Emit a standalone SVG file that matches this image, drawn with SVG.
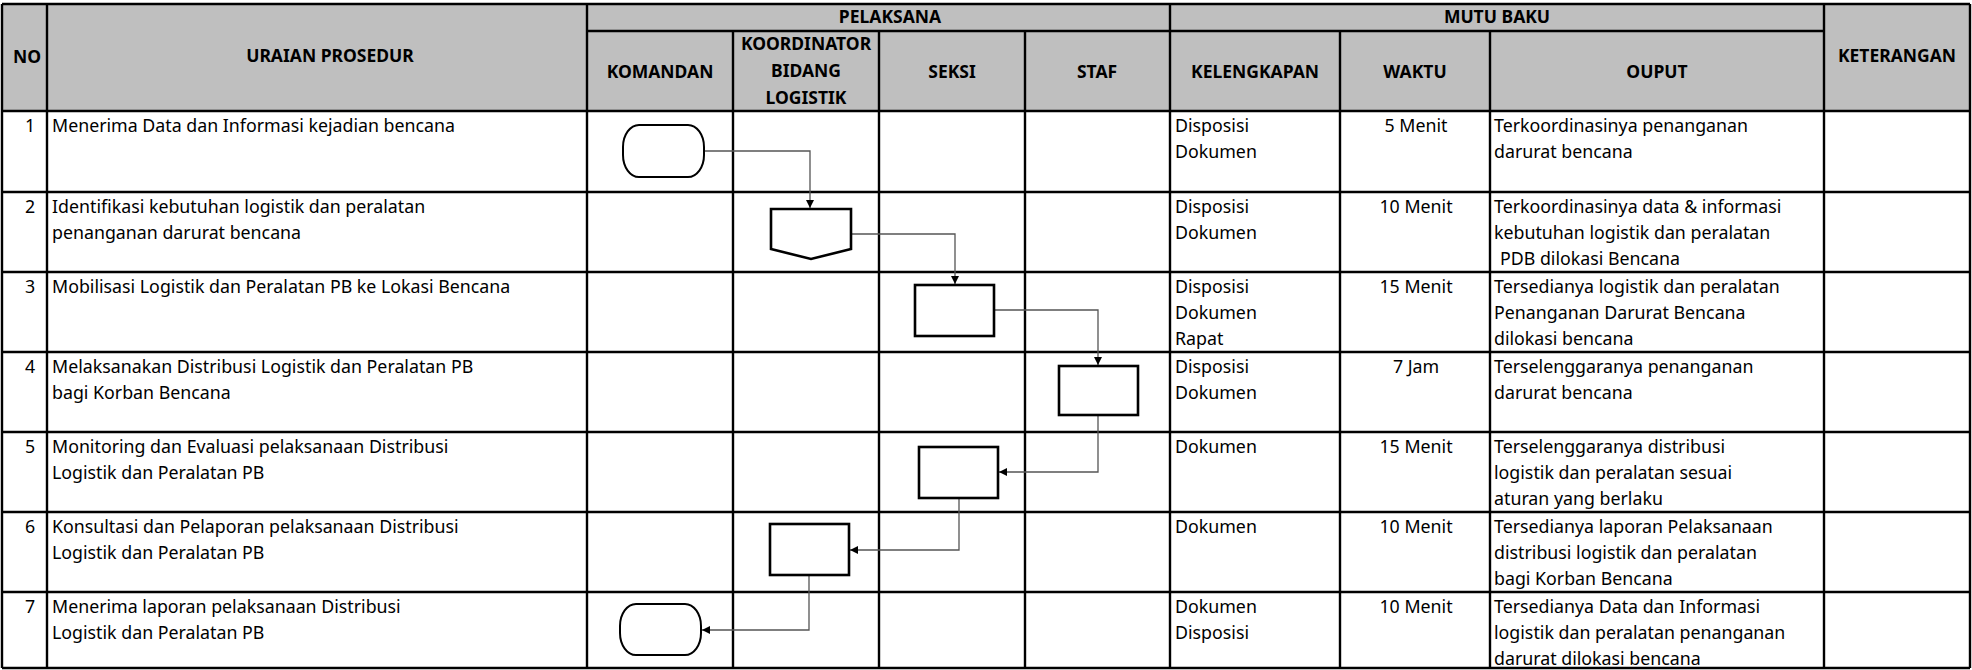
<svg xmlns="http://www.w3.org/2000/svg" width="1972" height="670" viewBox="0 0 1972 670">
<defs>
<style>
.bg{fill:#ffffff}
.hdr{fill:#BFBFBF}
.grid{stroke:#000;stroke-width:2.4;fill:none}
.shape{fill:#fff;stroke:#000;stroke-width:2.6}
.term{fill:#fff;stroke:#000;stroke-width:2}
.conn{fill:none;stroke:#555;stroke-width:1.3}
.h{font-family:"Noto Sans","Open Sans",sans-serif;font-weight:bold;font-size:17.5px;fill:#000;text-anchor:middle}
.t{font-family:"Noto Sans","Open Sans",sans-serif;font-size:17.8px;fill:#000}
.c{text-anchor:middle}
</style>
<marker id="arr" viewBox="0 0 10 10" refX="10" refY="5" markerWidth="8" markerHeight="8" markerUnits="userSpaceOnUse" orient="auto">
<path d="M0,0 L10,5 L0,10 Z" fill="#000"/>
</marker>
</defs>
<rect class="bg" x="0" y="0" width="1972" height="670"/>
<g id="table">
<rect class="hdr" x="2" y="4" width="1968" height="107"/>
<path class="grid" d="M2,4 H1970 M587,31 H1824 M2,111 H1970 M2,192 H1970 M2,272 H1970 M2,352 H1970 M2,432 H1970 M2,512 H1970 M2,592 H1970 M2,668 H1970
M2,4 V668 M47,4 V668 M587,4 V668 M733,31 V668 M879,31 V668 M1025,31 V668 M1170,4 V668 M1340,31 V668 M1490,31 V668 M1824,4 V668 M1970,4 V668"/>
</g>
<g id="header">
<text class="h" x="27" y="63">NO</text>
<text class="h" x="330" y="62">URAIAN PROSEDUR</text>
<text class="h" x="890" y="23">PELAKSANA</text>
<text class="h" x="1497" y="23">MUTU BAKU</text>
<text class="h" x="1897" y="62">KETERANGAN</text>
<text class="h" x="660" y="78">KOMANDAN</text>
<text class="h" x="806" y="50">KOORDINATOR</text>
<text class="h" x="806" y="77">BIDANG</text>
<text class="h" x="806" y="104">LOGISTIK</text>
<text class="h" x="952" y="78">SEKSI</text>
<text class="h" x="1097" y="78">STAF</text>
<text class="h" x="1255" y="78">KELENGKAPAN</text>
<text class="h" x="1415" y="78">WAKTU</text>
<text class="h" x="1657" y="78">OUPUT</text>
</g>
<g id="row1">
<text class="t c" x="30" y="132">1</text>
<text class="t" x="52" y="132">Menerima Data dan Informasi kejadian bencana</text>
<text class="t" x="1175" y="132">Disposisi</text><text class="t" x="1175" y="158">Dokumen</text>
<text class="t c" x="1416" y="132">5 Menit</text>
<text class="t" x="1494" y="132">Terkoordinasinya penanganan</text><text class="t" x="1494" y="158">darurat bencana</text>
</g>
<g id="row2">
<text class="t c" x="30" y="213">2</text>
<text class="t" x="52" y="213">Identifikasi kebutuhan logistik dan peralatan</text><text class="t" x="52" y="239">penanganan darurat bencana</text>
<text class="t" x="1175" y="213">Disposisi</text><text class="t" x="1175" y="239">Dokumen</text>
<text class="t c" x="1416" y="213">10 Menit</text>
<text class="t" x="1494" y="213">Terkoordinasinya data &amp; informasi</text><text class="t" x="1494" y="239">kebutuhan logistik dan peralatan</text><text class="t" x="1500" y="265">PDB  dilokasi Bencana</text>
</g>
<g id="row3">
<text class="t c" x="30" y="293">3</text>
<text class="t" x="52" y="293">Mobilisasi Logistik dan Peralatan PB ke Lokasi Bencana</text>
<text class="t" x="1175" y="293">Disposisi</text><text class="t" x="1175" y="319">Dokumen</text><text class="t" x="1175" y="345">Rapat</text>
<text class="t c" x="1416" y="293">15 Menit</text>
<text class="t" x="1494" y="293">Tersedianya logistik dan peralatan</text><text class="t" x="1494" y="319">Penanganan Darurat Bencana</text><text class="t" x="1494" y="345">dilokasi bencana</text>
</g>
<g id="row4">
<text class="t c" x="30" y="373">4</text>
<text class="t" x="52" y="373">Melaksanakan Distribusi Logistik dan Peralatan PB</text><text class="t" x="52" y="399">bagi Korban Bencana</text>
<text class="t" x="1175" y="373">Disposisi</text><text class="t" x="1175" y="399">Dokumen</text>
<text class="t c" x="1416" y="373">7 Jam</text>
<text class="t" x="1494" y="373">Terselenggaranya penanganan</text><text class="t" x="1494" y="399">darurat bencana</text>
</g>
<g id="row5">
<text class="t c" x="30" y="453">5</text>
<text class="t" x="52" y="453">Monitoring dan Evaluasi pelaksanaan Distribusi</text><text class="t" x="52" y="479">Logistik dan Peralatan PB</text>
<text class="t" x="1175" y="453">Dokumen</text>
<text class="t c" x="1416" y="453">15 Menit</text>
<text class="t" x="1494" y="453">Terselenggaranya distribusi</text><text class="t" x="1494" y="479">logistik dan peralatan sesuai</text><text class="t" x="1494" y="505">aturan yang berlaku</text>
</g>
<g id="row6">
<text class="t c" x="30" y="533">6</text>
<text class="t" x="52" y="533">Konsultasi dan Pelaporan pelaksanaan Distribusi</text><text class="t" x="52" y="559">Logistik dan Peralatan PB</text>
<text class="t" x="1175" y="533">Dokumen</text>
<text class="t c" x="1416" y="533">10 Menit</text>
<text class="t" x="1494" y="533">Tersedianya laporan Pelaksanaan</text><text class="t" x="1494" y="559">distribusi logistik dan peralatan</text><text class="t" x="1494" y="585">bagi Korban Bencana</text>
</g>
<g id="row7">
<text class="t c" x="30" y="613">7</text>
<text class="t" x="52" y="613">Menerima laporan pelaksanaan Distribusi</text><text class="t" x="52" y="639">Logistik dan Peralatan PB</text>
<text class="t" x="1175" y="613">Dokumen</text><text class="t" x="1175" y="639">Disposisi</text>
<text class="t c" x="1416" y="613">10 Menit</text>
<text class="t" x="1494" y="613">Tersedianya Data dan Informasi</text><text class="t" x="1494" y="639">logistik dan peralatan penanganan</text><text class="t" x="1494" y="665">darurat dilokasi bencana</text>
</g>
<g id="connectors">
<path class="conn" d="M704,151 H810 V208" marker-end="url(#arr)"/>
<path class="conn" d="M851,234 H955 V284" marker-end="url(#arr)"/>
<path class="conn" d="M994,310 H1098 V365" marker-end="url(#arr)"/>
<path class="conn" d="M1098,415 V472 H999" marker-end="url(#arr)"/>
<path class="conn" d="M959,498 V550 H850" marker-end="url(#arr)"/>
<path class="conn" d="M809,575 V630 H702" marker-end="url(#arr)"/>
</g>
<g id="node1"><rect class="term" x="623" y="125" width="81" height="52" rx="16" ry="22"/></g>
<g id="node2"><path class="shape" d="M771,209 H851 V249 L811,259 L771,249 Z"/></g>
<g id="node3"><rect class="shape" x="915" y="285" width="79" height="51"/></g>
<g id="node4"><rect class="shape" x="1059" y="366" width="79" height="49"/></g>
<g id="node5"><rect class="shape" x="919" y="447" width="79" height="51"/></g>
<g id="node6"><rect class="shape" x="770" y="524" width="79" height="51"/></g>
<g id="node7"><rect class="term" x="620" y="604" width="81" height="51" rx="16" ry="22"/></g>
</svg>
